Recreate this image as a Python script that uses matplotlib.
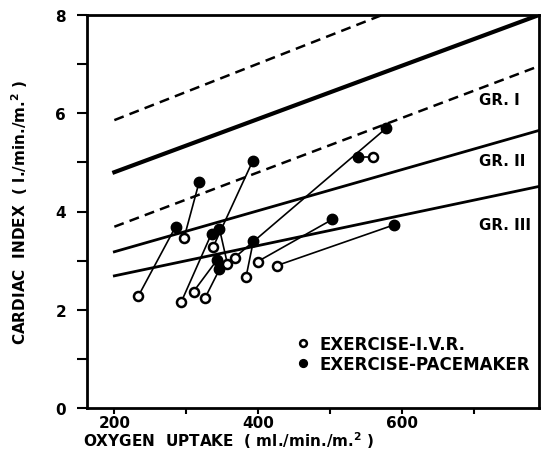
import numpy as np
import matplotlib.pyplot as plt

# paired measurements: exercise with I.V.R. (open) and exercise with pacemaker (filled)
ivr_x = [233, 297, 293, 310, 326, 337, 357, 367, 383, 399, 426, 560]
ivr_y = [2.27, 3.47, 2.16, 2.37, 2.24, 3.27, 2.94, 3.06, 2.67, 2.98, 2.90, 5.10]
pace_x = [285, 318, 335, 343, 346, 392, 346, 578, 393, 503, 589, 538]
pace_y = [3.69, 4.61, 3.55, 3.02, 2.82, 5.02, 3.65, 5.70, 3.39, 3.84, 3.73, 5.10]

# group reference lines (two endpoints each)
gr1_solid_x, gr1_solid_y = [200, 790], [4.80, 8.00]
gr1_upper_x, gr1_upper_y = [200, 572], [5.86, 8.00]
gr1_lower_x, gr1_lower_y = [200, 790], [3.69, 6.96]
gr2_x, gr2_y = [200, 790], [3.18, 5.65]
gr3_x, gr3_y = [200, 790], [2.69, 4.51]

group_labels = ["GR. I", "GR. II", "GR. III"]
group_label_y = [6.27, 5.03, 3.73]

plt.rcParams['font.family'] = ['DejaVu Sans']
plt.rcParams['font.weight'] = 'bold'

fig = plt.figure(figsize=(5.41, 4.56), dpi=100)
ax = fig.add_axes([87 / 541, (456 - 409) / 456, 452 / 541, 393 / 456])

ax.plot(gr1_solid_x, gr1_solid_y, color='black', lw=3.0)
ax.plot(gr1_upper_x, gr1_upper_y, color='black', lw=1.8, ls=(0, (4, 2.5)))
ax.plot(gr1_lower_x, gr1_lower_y, color='black', lw=1.8, ls=(0, (4, 2.5)))
ax.plot(gr2_x, gr2_y, color='black', lw=2.0)
ax.plot(gr3_x, gr3_y, color='black', lw=2.0)

for i in range(len(ivr_x)):
    ax.plot([ivr_x[i], pace_x[i]], [ivr_y[i], pace_y[i]], color='black', lw=1.2, zorder=3)

ax.plot(ivr_x, ivr_y, 'o', ms=6.5, mfc='white', mec='black', mew=1.8, zorder=4,
        label='EXERCISE-I.V.R.')
ax.plot(pace_x, pace_y, 'o', ms=7.5, mfc='black', mec='black', zorder=4,
        label='EXERCISE-PACEMAKER')

for lab, y in zip(group_labels, group_label_y):
    ax.text(707, y, lab, fontsize=10.8, fontweight='bold', va='center', ha='left')

leg = ax.legend(loc='upper left', bbox_to_anchor=(0.43, 0.225), frameon=False,
                fontsize=12, handlelength=0.8, handletextpad=0.6, labelspacing=0.15,
                markerscale=0.75)

ax.set_xlim(162, 790)
ax.set_ylim(0, 8)
ax.set_xticks([200, 300, 400, 500, 600, 700])
ax.set_xticklabels(['200', '', '400', '', '600', ''])
ax.set_yticks(np.arange(0, 9))
ax.set_yticklabels(['0', '', '2', '', '4', '', '6', '', '8'])
ax.tick_params(axis='y', direction='out', length=7, width=1.5, labelsize=11, pad=8)
ax.tick_params(axis='x', direction='out', length=4, width=1.5, labelsize=11, pad=1)
for tl in ax.get_xticklabels() + ax.get_yticklabels():
    tl.set_fontweight('bold')
for s in ax.spines.values():
    s.set_linewidth(2)

fig.text(20 / 541, 1 - 212 / 456, "CARDIAC  INDEX  ( l./min./m.$^\\mathbf{2}$ )", rotation=90,
         ha='center', va='center', fontsize=11, fontweight='bold')
fig.text(83 / 541, 1 - 441 / 456, "OXYGEN  UPTAKE  ( ml./min./m.$^\\mathbf{2}$ )",
         ha='left', va='center', fontsize=11, fontweight='bold')

fig.savefig('out.png', dpi=100)
